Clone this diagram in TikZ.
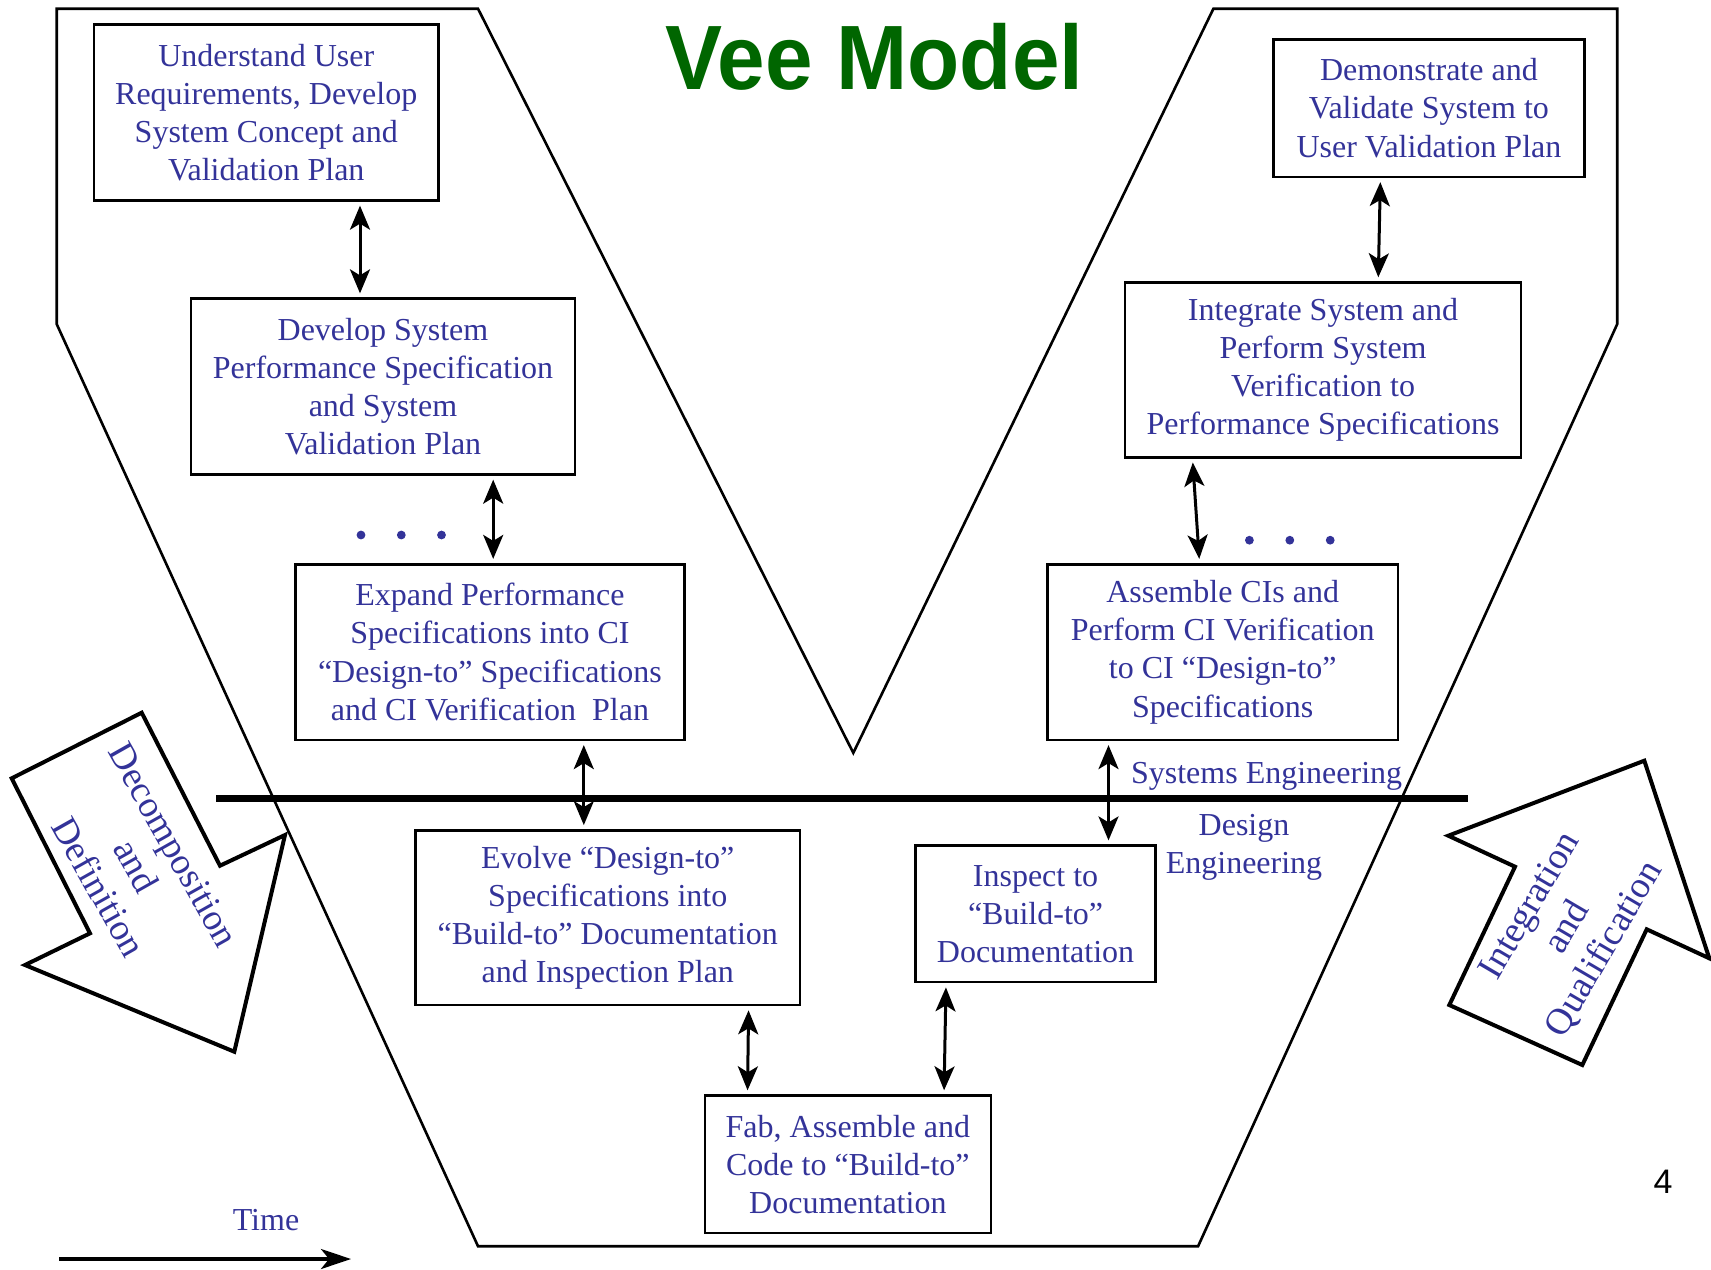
\documentclass[tikz,border=0pt]{standalone}
\usepackage{fontspec}
\setmainfont{Liberation Serif}
\newfontfamily\sansfam{Liberation Sans}
\usetikzlibrary{arrows.meta}
\definecolor{txtblue}{RGB}{51,51,153}
\definecolor{titlegreen}{RGB}{0,102,0}
\tikzset{
  box/.style={draw, line width=1.3pt, inner sep=0pt, align=center, text=txtblue,
    font=\fontsize{16}{19.1}\selectfont},
  dbl/.style={line width=1.5pt,
    {Stealth[length=12pt,width=10pt,inset=3pt]}-{Stealth[length=12pt,width=10pt,inset=3pt]},
    shorten <=2pt, shorten >=2pt},
  bigarrow/.style={draw, fill=white, line width=2pt, line join=miter},
  bigtext/.style={align=center, text=txtblue, font=\fontsize{18.6}{21.5}\selectfont},
  lbl/.style={text=txtblue, font=\fontsize{16}{19.1}\selectfont, align=center},
  dot/.style={circle, fill=txtblue, inner sep=0pt, minimum size=4.4pt}
}
\begin{document}
\begin{tikzpicture}[x=0.5pt,y=-0.5pt]
\useasboundingbox (0,0) rectangle (1711,1269);

% Vee outline
\draw[line width=1.3pt, line join=miter]
  (56.7,8.7) -- (478,8.7) -- (853.3,752.9) -- (1213.4,8.7) -- (1617.2,8.7)
  -- (1617.2,324.1) -- (1198.1,1246.2) -- (478,1246.2) -- (56.7,324.1) -- cycle;

% title
\node[font=\sansfam\bfseries\fontsize{45.7}{50}\selectfont, text=titlegreen,
  xscale=0.935, anchor=base] (title) at (874.5,89.5) {Vee Model};

% boxes
\node[box, minimum width=172.45pt, minimum height=87.85pt] (b1) at (266.25,112.5)
  {Understand User\\Requirements, Develop\\System Concept and\\Validation Plan};
\node[box, minimum width=192pt, minimum height=87.85pt] (b2) at (383,386.5)
  {Develop System\\Performance Specification\\and System\\Validation Plan};
\node[box, minimum width=194.25pt, minimum height=87.8pt] (b3) at (489.95,652)
  {Expand Performance\\Specifications into CI\\“Design-to” Specifications\\and CI Verification~ Plan};
\node[box, minimum width=192.05pt, minimum height=87.3pt] (b4) at (607.75,917.7)
  {Evolve “Design-to”\\Specifications into\\“Build-to” Documentation\\and Inspection Plan};
\node[box, minimum width=142.95pt, minimum height=68.7pt] (b5) at (847.85,1164.3)
  {Fab, Assemble and\\Code to “Build-to”\\Documentation};
\node[box, minimum width=120.05pt, minimum height=68.2pt] (b6) at (1035.55,913.9)
  {Inspect to\\“Build-to”\\Documentation};
\node[box, minimum width=175.1pt, minimum height=87.8pt] (b7) at (1222.7,652)
  {Assemble CIs and\\Perform CI Verification\\to CI “Design-to”\\Specifications};
\node[box, minimum width=198.05pt, minimum height=87.3pt] (b8) at (1323.05,369.9)
  {Integrate System and\\Perform System\\Verification to\\Performance Specifications};
\node[box, minimum width=155.5pt, minimum height=68.75pt] (b9) at (1428.9,108.05)
  {Demonstrate and\\Validate System to\\User Validation Plan};

% arrow x positions
\coordinate (x12) at (360,0);
\coordinate (x23) at (493.2,0);
\coordinate (x34) at (583.8,0);
\coordinate (x45a) at (748.6,0);
\coordinate (x45b) at (747.5,0);
\coordinate (x56a) at (946,0);
\coordinate (x56b) at (944,0);
\coordinate (x67) at (1108.5,0);
\coordinate (x78a) at (1199.5,0);
\coordinate (x78b) at (1192.5,0);
\coordinate (x89a) at (1378.2,0);
\coordinate (x89b) at (1380.4,0);

\draw[dbl] (b1.south -| x12) -- (b2.north -| x12);
\draw[dbl] (b2.south -| x23) -- (b3.north -| x23);
\draw[dbl] (b3.south -| x34) -- (b4.north -| x34);
\draw[dbl] (b4.south -| x45a) -- (b5.north -| x45b);
\draw[dbl] (b5.north -| x56b) -- (b6.south -| x56a);
\draw[dbl] (b6.north -| x67) -- (b7.south -| x67);
\draw[dbl] (b7.north -| x78a) -- (b8.south -| x78b);
\draw[dbl] (b8.north -| x89a) -- (b9.south -| x89b);

% dots
\node[dot] (d1) at (361,535) {};
\node[dot] (d2) at (401.3,535) {};
\node[dot] (d3) at (441.5,535) {};
\node[dot] (d4) at (1249.4,540.2) {};
\node[dot] (d5) at (1289.8,540.2) {};
\node[dot] (d6) at (1330.2,540.2) {};

% thick separator
\coordinate (h0) at (216,798);
\coordinate (h1) at (1467.7,798);
\draw[line width=3.5pt] (h0) -- (h1);

\node[lbl, anchor=base west] (se) at (1124,783) {Systems Engineering};
\node[lbl] (de) at (1244,847) {Design\\Engineering};

% big arrows
\draw[bigarrow] (11.7,778.3) -- (141.7,712.7) -- (220,865.7) -- (285,835)
  -- (234.3,1051.7) -- (25,965) -- (90,933.3) -- cycle;
\node[bigtext, rotate=-60.6] (dd) at (136,866) {Decomposition\\and\\Definition};

\draw[bigarrow] (1644.3,760.7) -- (1709.3,958.3) -- (1646.7,929.3) -- (1582.3,1065)
  -- (1449.3,1005) -- (1515,866.7) -- (1448.3,835.7) -- cycle;
\node[bigtext, rotate=59.6] (iq) at (1568,928) {Integration\\and\\Qualification};

% time arrow
\coordinate (t0) at (59,1259);
\coordinate (t1) at (351,1259);
\draw[line width=1.7pt, -{Stealth[length=15pt,width=10pt,inset=4pt]}] (t0) -- (t1);
\node[lbl, anchor=base] (time) at (266,1230) {Time};

% page number
\node[font=\sansfam\fontsize{17}{20}\selectfont, anchor=base] (pg) at (1663,1193) {4};
\end{tikzpicture}
\end{document}
